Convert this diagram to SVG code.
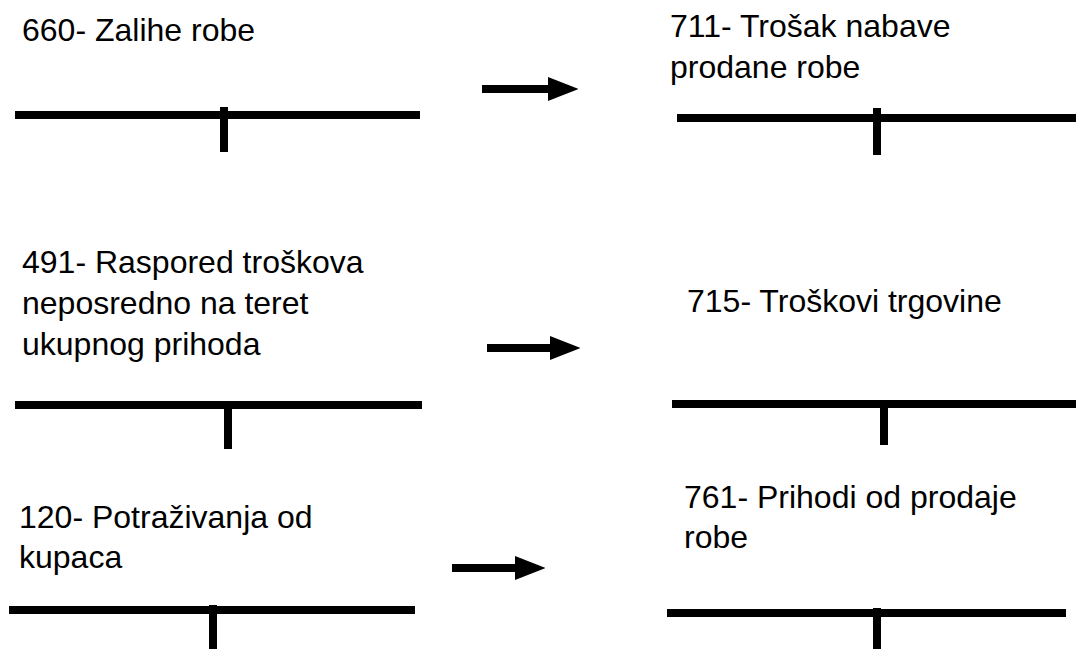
<svg xmlns="http://www.w3.org/2000/svg" width="1076" height="649" viewBox="0 0 1076 649">
<style>
text{font-family:"Liberation Sans",Arial,sans-serif;font-size:32px;fill:#000}
.t{stroke:#000;stroke-width:8;fill:none}
.a{stroke:#000;stroke-width:8;fill:none}
</style>
<defs>
<marker id="ah" markerWidth="3.8" markerHeight="3" refX="0" refY="1.5" orient="auto" markerUnits="strokeWidth">
<path d="M0,0 L3.8,1.5 L0,3 Z" fill="#000"/>
</marker>
</defs>
<rect width="1076" height="649" fill="#fff"/>
<g id="acc660">
<text x="22" y="41">660- Zalihe robe</text>
<path class="t" d="M15,115 H420 M224,107 V152"/>
</g>
<g id="acc711">
<text x="670" y="37">711- Trošak nabave</text>
<text x="670" y="78">prodane robe</text>
<path class="t" d="M677,118 H1076 M877,108 V155"/>
</g>
<g id="acc491">
<text x="22" y="273">491- Raspored troškova</text>
<text x="22" y="314">neposredno na teret</text>
<text x="22" y="355">ukupnog prihoda</text>
<path class="t" d="M15,405 H422 M228,405 V449"/>
</g>
<g id="acc715">
<text x="687" y="312">715- Troškovi trgovine</text>
<path class="t" d="M672,404 H1076 M884,404 V445"/>
</g>
<g id="acc120">
<text x="19" y="528">120- Potraživanja od</text>
<text x="19" y="568">kupaca</text>
<path class="t" d="M9,610 H415 M213,605 V649"/>
</g>
<g id="acc761">
<text x="684" y="508">761- Prihodi od prodaje</text>
<text x="684" y="548">robe</text>
<path class="t" d="M667,613 H1066 M877,608 V649"/>
</g>
<g id="connectors">
<path class="a" d="M482,89 H548" marker-end="url(#ah)"/>
<path class="a" d="M487,348 H550" marker-end="url(#ah)"/>
<path class="a" d="M452,568 H515" marker-end="url(#ah)"/>
</g>
</svg>
